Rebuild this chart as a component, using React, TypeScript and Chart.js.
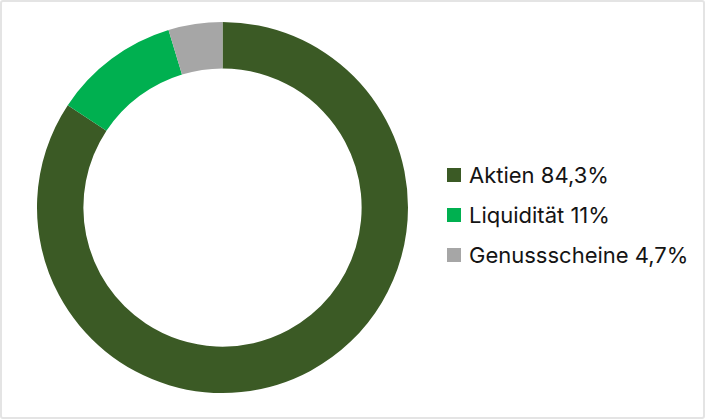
import { useEffect, useRef } from 'react';
import Chart from 'chart.js/auto';

const labels = ['Aktien', 'Liquidität', 'Genussscheine'];
const shares = [84.3, 11, 4.7];
const shareLabels = ['84,3%', '11%', '4,7%'];
const colors = ['#3b5a25', '#00b050', '#a6a6a6'];

export default function App() {
  const canvasRef = useRef<HTMLCanvasElement>(null);

  useEffect(() => {
    document.body.style.margin = '0';
    let chart: Chart | null = null;
    if (canvasRef.current) {
      chart = new Chart(canvasRef.current, {
        type: 'doughnut',
        data: {
          labels,
          datasets: [{
            data: shares,
            backgroundColor: colors,
            borderWidth: 0,
          }]
        },
        options: {
          animation: false,
          responsive: false,
          cutout: '75%',
          layout: { padding: { left: 34, top: 22, bottom: 22, right: 0 } },
          plugins: { legend: { display: false }, tooltip: { enabled: false } }
        }
      });
    }
    return () => {
      if (chart) chart.destroy();
    };
  }, []);

  return (
    <div style={{ position: 'relative', width: 705, height: 419, boxSizing: 'border-box', border: '2px solid #e4e4e4', borderRadius: 3, background: '#fff', fontFamily: 'Inter, "Noto Sans", sans-serif' }}>
      <canvas ref={canvasRef} width={411} height={415} style={{ position: 'absolute', left: -2, top: -2 }}></canvas>
      <div style={{ position: 'absolute', left: 445, top: 153 }}>
        {labels.map((l, i) => (
          <div key={l} style={{ display: 'flex', alignItems: 'center', height: 40 }}>
            <span style={{ width: 14, height: 14, background: colors[i], display: 'inline-block', marginRight: 8 }}></span>
            <span style={{ fontSize: 22, color: '#141414' }}>{l} {shareLabels[i]}</span>
          </div>
        ))}
      </div>
    </div>
  );
}
